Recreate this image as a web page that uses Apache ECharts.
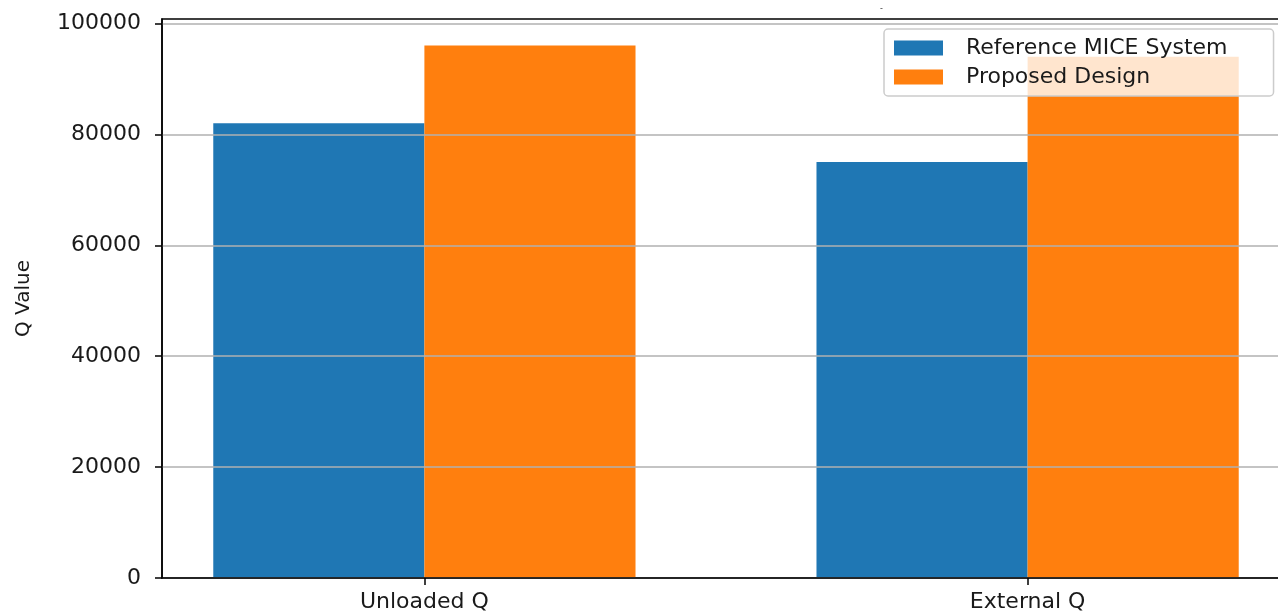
<!DOCTYPE html>
<html>
<head>
<meta charset="utf-8">
<script src="https://cdn.jsdelivr.net/npm/echarts@6/dist/echarts.min.js"></script>
<style>
  html, body { margin: 0; padding: 0; background: #fff; }
  #chart { width: 1278px; height: 612px; }
</style>
</head>
<body>
<div id="chart"></div>
<script>
// chart values
const categories = ['Unloaded Q', 'External Q'];
const referenceValues = [82000, 75000];
const proposedValues = [96000, 94000];
const seriesNames = ['Reference MICE System', 'Proposed Design'];
const yTicks = [0, 20000, 40000, 60000, 80000, 100000];
const xTicks = [0, 1];

const font = 'DejaVu Sans';

const initChart = () => {
    const chartDom = document.getElementById('chart');
    const myChart = echarts.init(chartDom);

    const toPoints = (vals) => vals.map((v, i) => [i, v]);

    const option = {
        animation: false,
        color: ['#1f77b4', '#ff7f0e'],
        title: {
            text: '-',
            left: 875, top: 0,
            textStyle: { fontFamily: font, fontSize: 8, fontWeight: 'normal', color: '#333' }
        },
        grid: {
            left: 162, top: 19, bottom: 34, right: -12,
            outerBoundsMode: 'none',
            containLabel: false,
            show: true, borderColor: '#000', borderWidth: 1.5, backgroundColor: '#fff'
        },
        legend: {
            orient: 'vertical',
            left: 884, top: 29,
            padding: [8, 46, 8, 10],
            itemWidth: 49, itemHeight: 15, itemGap: 7,
            icon: 'rect',
            backgroundColor: 'rgba(255,255,255,0.8)',
            borderColor: '#cccccc', borderWidth: 1.5, borderRadius: 4,
            textStyle: { fontFamily: font, fontSize: 22, color: '#1a1a1a', padding: [0, 0, 0, 18] },
            z: 10,
            data: seriesNames
        },
        xAxis: {
            type: 'value',
            min: -0.435, max: 1.435,
            z: 5,
            axisLine: { show: true, onZero: false, lineStyle: { color: '#000', width: 1.5 } },
            axisTick: { show: true, length: 7, customValues: xTicks, lineStyle: { color: '#000', width: 1.5 } },
            axisLabel: {
                customValues: xTicks,
                formatter: (v) => categories[Math.round(v)],
                fontFamily: font, fontSize: 22, color: '#1a1a1a', margin: 13
            },
            splitLine: { show: false }
        },
        yAxis: {
            type: 'value',
            min: 0, max: 100800,
            z: 5,
            name: 'Q Value',
            nameLocation: 'middle',
            nameGap: 128,
            nameTextStyle: { fontFamily: font, fontSize: 20, color: '#1a1a1a' },
            axisLine: { show: true, onZero: false, lineStyle: { color: '#000', width: 1.5 } },
            axisTick: { show: true, length: 7, customValues: yTicks, lineStyle: { color: '#000', width: 1.5 } },
            axisLabel: {
                customValues: yTicks,
                formatter: (v) => String(v),
                fontFamily: font, fontSize: 22, color: '#1a1a1a', margin: 21
            },
            splitLine: { show: true, lineStyle: { color: '#b0b0b0', width: 1.5 } }
        },
        series: [
            {
                name: seriesNames[0],
                type: 'bar',
                z: 1,
                barWidth: '35%',
                barGap: '0%',
                data: toPoints(referenceValues)
            },
            {
                name: seriesNames[1],
                type: 'bar',
                z: 1,
                barWidth: '35%',
                barGap: '0%',
                data: toPoints(proposedValues)
            }
        ]
    };

    myChart.setOption(option);
};

initChart();
</script>
</body>
</html>
